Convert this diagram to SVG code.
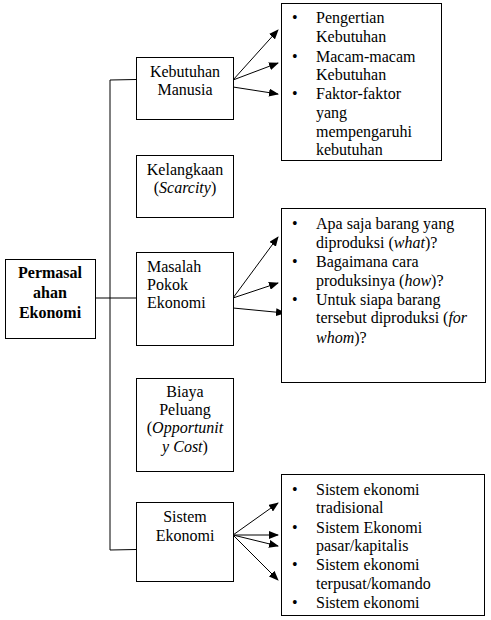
<svg xmlns="http://www.w3.org/2000/svg" width="491" height="620" viewBox="0 0 491 620">
<style>
text{font-family:"Liberation Serif","Times New Roman",serif;font-size:16px;fill:#000}
.b{font-weight:bold}
.c{text-anchor:middle}
rect{fill:#fff;stroke:#000;stroke-width:1}
.ln{stroke:#000;stroke-width:1;fill:none}
.ar{stroke:#000;stroke-width:1;fill:none;marker-end:url(#ah)}
</style>
<defs>
<marker id="ah" markerWidth="10" markerHeight="8" refX="9" refY="4" orient="auto" markerUnits="userSpaceOnUse">
<path d="M0,0 L10,4 L0,8 Z" fill="#000"/>
</marker>
</defs>
<rect x="0" y="0" width="491" height="620" style="stroke:none"/>
<g id="connectors">
<path class="ln" d="M136,79.5 L110,80 L110,550 L136,549.5"/>
<path class="ln" d="M95,298 L136,298"/>
<path class="ar" d="M233,80 L278,30"/>
<path class="ar" d="M233,80 L278,63"/>
<path class="ar" d="M233,87 L278,94"/>
<path class="ar" d="M233,298 L278,237"/>
<path class="ar" d="M233,298 L278,283"/>
<path class="ar" d="M233,308 L285,313"/>
<path class="ar" d="M233,535 L278,503"/>
<path class="ar" d="M233,535 L278,535"/>
<path class="ar" d="M233,535 L278,546"/>
<path class="ar" d="M233,535 L278,580"/>
</g>
<g id="permasalahan">
<rect x="5.5" y="259.5" width="90" height="79"/>
<text class="b c" x="50" y="278">Permasal</text>
<text class="b c" x="50" y="298">ahan</text>
<text class="b c" x="50" y="318">Ekonomi</text>
</g>
<g id="kebutuhan">
<rect x="136.5" y="57.5" width="97" height="62"/>
<text class="c" x="185" y="77">Kebutuhan</text>
<text class="c" x="185" y="95">Manusia</text>
</g>
<g id="kelangkaan">
<rect x="136.5" y="155.5" width="97" height="62"/>
<text class="c" x="185" y="175">Kelangkaan</text>
<text class="c" x="185" y="193">(<tspan font-style="italic">Scarcity</tspan>)</text>
</g>
<g id="masalah">
<rect x="136.5" y="252.5" width="97" height="93"/>
<text x="147" y="272">Masalah</text>
<text x="147" y="290">Pokok</text>
<text x="147" y="308">Ekonomi</text>
</g>
<g id="biaya">
<rect x="136.5" y="378.5" width="97" height="93"/>
<text class="c" x="185" y="397">Biaya</text>
<text class="c" x="185" y="415">Peluang</text>
<text class="c" x="185" y="433">(<tspan font-style="italic">Opportunit</tspan></text>
<text class="c" x="185" y="452"><tspan font-style="italic">y Cost</tspan>)</text>
</g>
<g id="sistem">
<rect x="136.5" y="502.5" width="97" height="79"/>
<text class="c" x="185" y="522">Sistem</text>
<text class="c" x="185" y="541">Ekonomi</text>
</g>
<g id="list-kebutuhan">
<rect x="281.5" y="3.5" width="160" height="157"/>
<text x="292" y="23">•</text><text x="316" y="23">Pengertian</text>
<text x="316" y="42">Kebutuhan</text>
<text x="292" y="62">•</text><text x="316" y="62">Macam-macam</text>
<text x="316" y="80">Kebutuhan</text>
<text x="292" y="99">•</text><text x="316" y="99">Faktor-faktor</text>
<text x="316" y="118">yang</text>
<text x="316" y="137">mempengaruhi</text>
<text x="316" y="155">kebutuhan</text>
</g>
<g id="list-masalah">
<rect x="281.5" y="208.5" width="204" height="174"/>
<text x="292" y="229">•</text><text x="316" y="229">Apa saja barang yang</text>
<text x="316" y="248">diproduksi (<tspan font-style="italic">what</tspan>)?</text>
<text x="292" y="267">•</text><text x="316" y="267">Bagaimana cara</text>
<text x="316" y="286">produksinya (<tspan font-style="italic">how</tspan>)?</text>
<text x="292" y="305">•</text><text x="316" y="305">Untuk siapa barang</text>
<text x="316" y="323">tersebut diproduksi (<tspan font-style="italic">for</tspan></text>
<text x="316" y="343"><tspan font-style="italic">whom</tspan>)?</text>
</g>
<g id="list-sistem">
<rect x="281.5" y="474.5" width="203" height="141"/>
<text x="292" y="495">•</text><text x="316" y="495">Sistem ekonomi</text>
<text x="316" y="513">tradisional</text>
<text x="292" y="533">•</text><text x="316" y="533">Sistem Ekonomi</text>
<text x="316" y="551">pasar/kapitalis</text>
<text x="292" y="570">•</text><text x="316" y="570">Sistem ekonomi</text>
<text x="316" y="589">terpusat/komando</text>
<text x="292" y="608">•</text><text x="316" y="608">Sistem ekonomi</text>
</g>
</svg>
